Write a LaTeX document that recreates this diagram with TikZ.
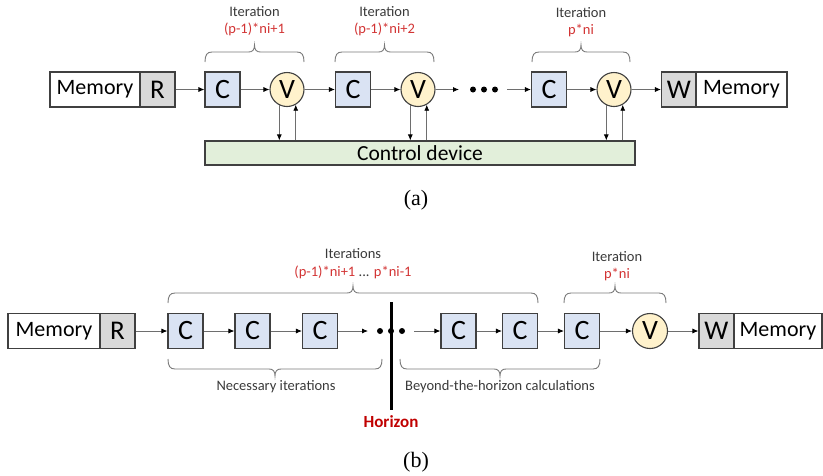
\documentclass[tikz,border=0pt]{standalone}
\usepackage{fontspec}
\setmainfont{Carlito}
\newfontfamily\capfont{Liberation Serif}
\usetikzlibrary{arrows.meta,calc}

\definecolor{edge}{HTML}{404040}
\definecolor{wire}{HTML}{6E6E6E}
\definecolor{cfill}{HTML}{DAE3F3}
\definecolor{vfill}{HTML}{FFF2CC}
\definecolor{gfill}{HTML}{E2EFDA}
\definecolor{rfill}{HTML}{D9D9D9}
\definecolor{idx}{HTML}{D23434}
\definecolor{hzn}{HTML}{C00000}
\definecolor{txt}{HTML}{3A3A3A}
\definecolor{brcol}{HTML}{7A7A7A}

% curly brace between x=#1 and x=#2, ends at y=#3; #4=1 points up, #4=-1 points down
\newcommand\curlybrace[4]{%
  \pgfmathsetmacro\bxm{(#1+#2)/2}%
  \draw[brc] (#1,#3) .. controls (#1,{#3-7*(#4)}) and ({#1+2},{#3-10*(#4)}) .. ({#1+7},{#3-10*(#4)})
    -- ({\bxm-6},{#3-10*(#4)}) .. controls ({\bxm-2},{#3-10*(#4)}) and (\bxm,{#3-12*(#4)}) .. (\bxm,{#3-17*(#4)})
    .. controls (\bxm,{#3-12*(#4)}) and ({\bxm+2},{#3-10*(#4)}) .. ({\bxm+6},{#3-10*(#4)})
    -- ({#2-7},{#3-10*(#4)}) .. controls ({#2-2},{#3-10*(#4)}) and (#2,{#3-7*(#4)}) .. (#2,#3);}

\tikzset{
  blk/.style={draw=edge, line width=1.1pt, inner sep=0pt, minimum height=35pt},
  mem/.style={blk, fill=white, minimum width=90pt, font=\fontsize{22}{26}\selectfont},
  rw/.style={blk, fill=rfill, minimum width=35pt, font=\fontsize{27}{30}\selectfont},
  cb/.style={blk, fill=cfill, minimum width=35pt, font=\fontsize{28}{31}\selectfont},
  vc/.style={circle, draw=edge, line width=1.1pt, fill=vfill, minimum size=34pt,
    inner sep=0pt, font=\fontsize{28}{31}\selectfont},
  ctl/.style={draw=edge, line width=1.1pt, fill=gfill, minimum width=430pt,
    minimum height=24pt, inner sep=0pt, font=\fontsize{21.5}{24}\selectfont},
  arr/.style={draw=wire, line width=0.8pt, -{Latex[length=6pt,width=5pt,color=black]}},
  dotn/.style={circle, fill=black, inner sep=0pt, minimum size=6pt},
  itl/.style={inner sep=0pt, text=txt, font=\fontsize{14.5}{17}\selectfont},
  idl/.style={itl, text=idx},
  brc/.style={draw=brcol, line width=0.9pt},
  subcap/.style={inner sep=0pt, font=\capfont\fontsize{22}{24}\selectfont},
}

\begin{document}
\begin{tikzpicture}[x=1pt, y=-1pt]
\useasboundingbox (0,0) rectangle (823,475);

% ---------- (a) pipeline with control device ----------
\node[mem] (ma) at (95,89.5) {Memory};
\node[rw] (ra) at (157.5,89.5) {R};
\node[cb] (ca1) at (222.5,89.5) {C};
\node[vc] (va1) at (287,89.5) {V};
\node[cb] (ca2) at (353,89.5) {C};
\node[vc] (va2) at (418,89.5) {V};
\node[dotn] (da1) at (473,89.5) {};
\node[dotn] (da2) at (484,89.5) {};
\node[dotn] (da3) at (495,89.5) {};
\coordinate (ga) at (459,89.5);
\coordinate (gb) at (507,89.5);
\node[cb] (ca3) at (549,89.5) {C};
\node[vc] (va3) at (614,89.5) {V};
\node[rw] (wa) at (679,89.5) {W};
\node[mem, minimum width=91pt] (mb) at (741.5,89.5) {Memory};
\node[ctl] (ctl) at (420,153) {Control device};

\draw[arr] (ra) -- (ca1);
\draw[arr] (ca1) -- (va1);
\draw[arr] (va1) -- (ca2);
\draw[arr] (ca2) -- (va2);
\draw[arr] (va2) -- (ga);
\draw[arr] (gb) -- (ca3);
\draw[arr] (ca3) -- (va3);
\draw[arr] (va3) -- (wa);

\foreach \v in {va1,va2,va3}{
  \draw[arr] (\v.-116) -- (\v.-116 |- ctl.north);
  \draw[arr] (\v.-60 |- ctl.north) -- (\v.-60);
}

\curlybrace{205}{304}{62}{1}
\curlybrace{335}{434}{62}{1}
\curlybrace{532}{630}{62}{1}
\node[itl] (ia1) at (254.5,12) {Iteration};
\node[idl] (ja1) at (254.5,29) {(p-1)*ni+1};
\node[itl] (ia2) at (384.5,12) {Iteration};
\node[idl] (ja2) at (384.5,29) {(p-1)*ni+2};
\node[itl] (ia3) at (581,13) {Iteration};
\node[idl] (ja3) at (581,31) {p*ni};

\node[subcap] (capa) at (416,200) {(a)};

% ---------- (b) pipeline with horizon ----------
\node[mem, minimum width=92pt] (mc) at (54,331) {Memory};
\node[rw] (rc) at (117.5,331) {R};
\node[cb] (cb1) at (185.5,331) {C};
\node[cb] (cb2) at (252.5,331) {C};
\node[cb] (cb3) at (320,331) {C};
\coordinate (ha) at (368,331);
\coordinate (hztop) at (391,302);
\coordinate (hzbot) at (391,410);
\draw[line width=3pt] (hztop) -- (hzbot);
\node[dotn] (db1) at (380,331) {};
\node[dotn] (db2) at (391,331) {};
\node[dotn] (db3) at (402,331) {};
\coordinate (hb) at (414,331);
\node[cb] (cb4) at (458.5,331) {C};
\node[cb] (cb5) at (520,331) {C};
\node[cb] (cb6) at (582,331) {C};
\node[vc, minimum size=35pt] (vb) at (650,331) {V};
\node[rw] (wb) at (716.5,331) {W};
\node[mem, minimum width=88pt] (md) at (778,331) {Memory};

\draw[arr] (rc) -- (cb1);
\draw[arr] (cb1) -- (cb2);
\draw[arr] (cb2) -- (cb3);
\draw[arr] (cb3) -- (ha);
\draw[arr] (hb) -- (cb4);
\draw[arr] (cb4) -- (cb5);
\draw[arr] (cb5) -- (cb6);
\draw[arr] (cb6) -- (vb);
\draw[arr] (vb) -- (wb);

\curlybrace{168}{538}{303}{1}
\curlybrace{564}{666}{303}{1}
\curlybrace{168}{382}{359}{-1}
\curlybrace{400}{600}{359}{-1}

\node[itl] (ib1) at (353,254) {Iterations};
\node[idl] (jb1) at (353,272) {(p-1)*ni+1 \textcolor{txt}{...} p*ni-1};
\node[itl] (ib2) at (617,257) {Iteration};
\node[idl] (jb2) at (617,275) {p*ni};
\node[itl] (nb) at (276,387) {Necessary iterations};
\node[itl] (bb) at (500,387) {Beyond-the-horizon calculations};
\node[inner sep=0pt, text=hzn, font=\bfseries\fontsize{17}{19}\selectfont] (hz) at (391,422) {Horizon};

\node[subcap] (capb) at (416,462) {(b)};
\end{tikzpicture}
\end{document}
